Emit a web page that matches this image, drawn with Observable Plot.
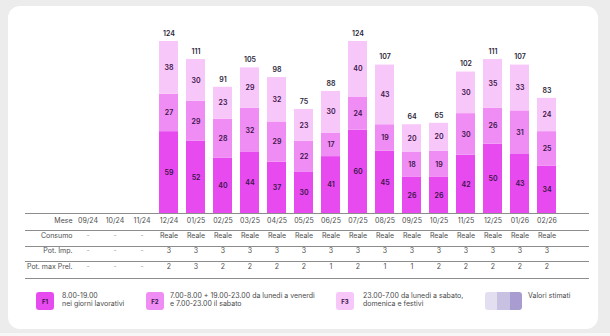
<!DOCTYPE html>
<html>
<head>
<meta charset="utf-8">
<script src="https://cdn.jsdelivr.net/npm/d3@7"></script>
<script src="https://cdn.jsdelivr.net/npm/@observablehq/plot@0.6"></script>
<style>
  html, body { margin: 0; padding: 0; }
  body { width: 610px; height: 336px; background: #ececec; position: relative; overflow: hidden; font-family: Inter, "Noto Sans", sans-serif; }
  #card { position: absolute; left: 8px; top: 6px; width: 590px; height: 323px; background: #fff; border-radius: 12px; }
  #strip { position: absolute; left: 0; top: 333px; width: 610px; height: 3px; background: #f7f7f7; }
  #chart { position: absolute; left: 0; top: 0; }
  .lg { position: absolute; font-size: 7px; line-height: 8px; color: #4a4a4a; }
  .box { position: absolute; width: 18px; height: 18px; border-radius: 3px; font-size: 6px; font-weight: 700; color: #3a1448; display: flex; align-items: center; justify-content: center; }
  .sw { position: absolute; top: 292px; width: 12.3px; height: 18px; }
</style>
</head>
<body>
<div id="card"></div>
<div id="strip"></div>
<div id="chart"></div>

<div class="box" style="left:36px;top:292px;background:#e74bef;">F1</div>
<div class="lg" style="left:62px;top:291.5px;">8.00-19.00<br>nei giorni lavorativi</div>
<div class="box" style="left:146px;top:292px;background:#f08df4;">F2</div>
<div class="lg" style="left:170px;top:291.5px;">7.00-8.00 + 19.00-23.00 da lunedi a venerdi<br>e 7.00-23.00 il sabato</div>
<div class="box" style="left:336px;top:292px;background:#f8c7fa;">F3</div>
<div class="lg" style="left:363px;top:291.5px;">23.00-7.00 da lunedi a sabato,<br>domenica e festivi</div>
<div class="sw" style="left:485px;background:#e3dff0;border-radius:3px 0 0 3px;"></div>
<div class="sw" style="left:497.3px;background:#c8c1e2;"></div>
<div class="sw" style="left:509.6px;background:#a99cd0;border-radius:0 3px 3px 0;"></div>
<div class="lg" style="left:528px;top:291.5px;">Valori stimati</div>

<script>
const months = ["09/24","10/24","11/24","12/24","01/25","02/25","03/25","04/25","05/25","06/25","07/25","08/25","09/25","10/25","11/25","12/25","01/26","02/26"];
const f1 = [null,null,null,59,52,40,44,37,30,41,60,45,26,26,42,50,43,34];
const f2 = [null,null,null,27,29,28,32,29,22,17,24,19,18,19,30,26,31,25];
const f3 = [null,null,null,38,30,23,29,32,23,30,40,43,20,20,30,35,33,24];
const totals = [null,null,null,124,111,91,105,98,75,88,124,107,64,65,102,111,107,83];
const consumo = ["-","-","-","Reale","Reale","Reale","Reale","Reale","Reale","Reale","Reale","Reale","Reale","Reale","Reale","Reale","Reale","Reale"];
const potImp = ["-","-","-","3","3","3","3","3","3","3","3","3","3","3","3","3","3","3"];
const potMaxPrel = ["-","-","-","2","3","2","2","2","2","1","2","1","1","2","2","2","2","2"];
const rowLabels = ["Mese","Consumo","Pot. Imp.","Pot. max Prel."];
const bands = ["F1","F2","F3"];
const bandColors = ["#e74bef","#f08df4","#f8c7fa"];

const series = [f1, f2, f3];
const data = [];
months.forEach((m, i) => {
  series.forEach((s, k) => {
    if (s[i] != null) data.push({month: m, band: bands[k], value: s[i]});
  });
});
const totalData = months.map((m, i) => ({month: m, total: totals[i]})).filter(d => d.total != null);

const rows = [months, consumo, potImp, potMaxPrel];
const rowDy = [9, 24, 39, 55];
const ruleDy = [0, 17, 33, 48, 65];

const tableMarks = [];
rows.forEach((r, k) => {
  const cells = months.map((m, i) => ({month: m, v: r[i]}));
  tableMarks.push(Plot.text(cells, {
    x: "month", frameAnchor: "bottom", dy: rowDy[k], text: "v",
    fill: d => d.v === "-" ? "#a0a0a0" : "#4e4e4e", fontSize: 7
  }));
  tableMarks.push(Plot.text([rowLabels[k]], {
    frameAnchor: "bottom-left", dx: 47, dy: rowDy[k], text: d => d,
    textAnchor: "end", fill: "#4e4e4e", fontSize: 7
  }));
});
ruleDy.forEach(dy => {
  tableMarks.push(Plot.ruleY([0], {dy, stroke: "#8d8d8d", strokeWidth: 1.2}));
});

const chart = Plot.plot({
  width: 610,
  height: 282,
  marginLeft: 25,
  marginRight: 21,
  marginTop: 41,
  marginBottom: 69,
  style: {background: "transparent", fontFamily: "Inter, 'Noto Sans', sans-serif"},
  x: {domain: months, range: [68.2, 565.9], padding: 0.31, axis: null},
  y: {domain: [0, 124], axis: null},
  color: {domain: bands, range: bandColors},
  marks: [
    Plot.barY(data, {x: "month", y: "value", fill: "band", z: "band", order: bands}),
    Plot.text(data, Plot.stackY({x: "month", y: "value", z: "band", order: bands, text: d => String(d.value), fill: "#3a1448", fontSize: 7, fontWeight: 600})),
    Plot.text(totalData, {x: "month", y: "total", dy: -8, text: d => String(d.total), fill: "#2b2438", fontSize: 7, fontWeight: 600}),
    ...tableMarks
  ]
});
document.getElementById("chart").appendChild(chart);
</script>
</body>
</html>
